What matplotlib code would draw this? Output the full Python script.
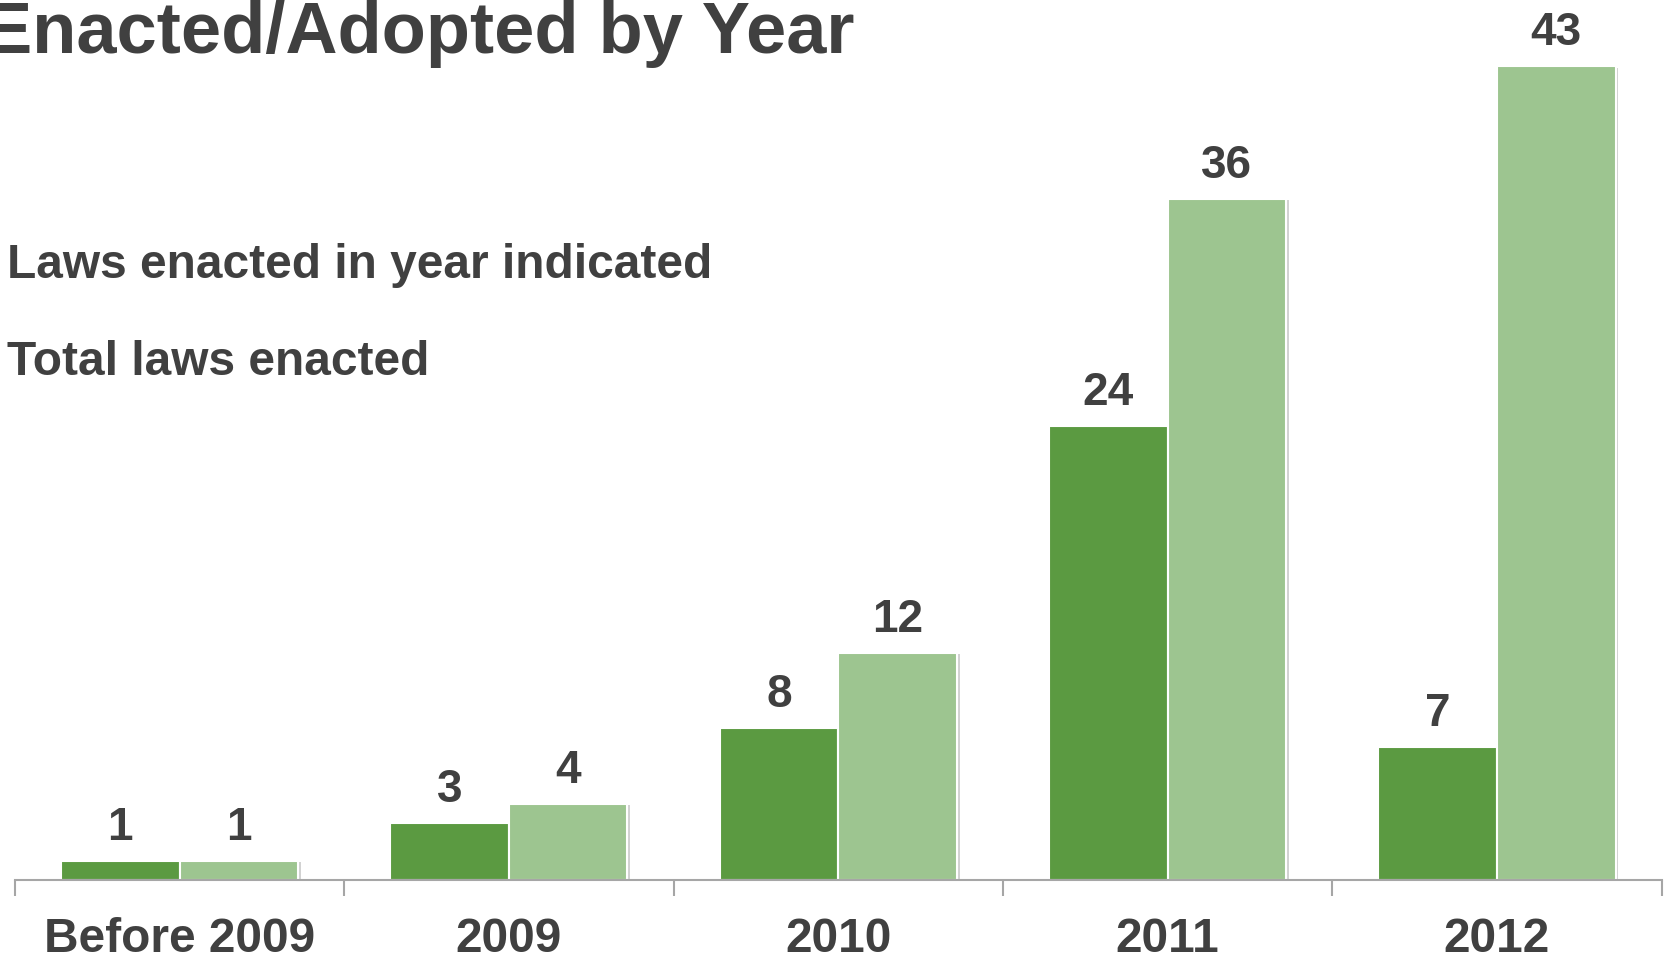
import numpy as np
import matplotlib
matplotlib.use("Agg")
import matplotlib.pyplot as plt
import matplotlib.patheffects as pe

# data
categories = ["Before 2009", "2009", "2010", "2011", "2012"]
laws_in_year = [1, 3, 8, 24, 7]
total_laws = [1, 4, 12, 36, 43]

dark_green = "#5B9A41"
light_green = "#9DC590"
text_col = "#404040"
axis_col = "#A6A6A6"

plt.rcParams['font.family'] = ['Liberation Sans', 'DejaVu Sans']
plt.rcParams['font.weight'] = 'bold'

fig = plt.figure(figsize=(16.65, 9.6), dpi=100)
ax = fig.add_axes([0.0089, 0.0838, 0.9891, 0.9162])

x = np.arange(len(categories))
w = 0.36
shadow = [pe.SimplePatchShadow(offset=(2, -1), shadow_rgbFace='#808080', alpha=0.35), pe.Normal()]

b1 = ax.bar(x - w/2, laws_in_year, w, color=dark_green, edgecolor='white', linewidth=1.5,
            path_effects=shadow, zorder=2)
b2 = ax.bar(x + w/2, total_laws, w, color=light_green, edgecolor='white', linewidth=1.5,
            path_effects=shadow, zorder=2)

for bars in (b1, b2):
    for rect in bars:
        h = rect.get_height()
        ax.annotate(str(int(h)), (rect.get_x() + rect.get_width()/2, h),
                    xytext=(0, 15), textcoords='offset points', ha='center', va='baseline',
                    fontsize=33, fontweight='bold', color=text_col)

ax.set_xlim(-0.5, 4.5)
ax.set_ylim(0, 46.5)

for s in ['top', 'right', 'left']:
    ax.spines[s].set_visible(False)
ax.spines['bottom'].set_color(axis_col)
ax.spines['bottom'].set_linewidth(1.5)
ax.set_yticks([])

ax.set_xticks(x)
ax.set_xticklabels(categories, fontsize=34.5, fontweight='bold', color=text_col)
ax.tick_params(axis='x', which='major', length=0, pad=27)
ax.set_xticks(np.arange(-0.5, 5.0, 1.0), minor=True)
ax.tick_params(axis='x', which='minor', length=11.5, width=1.5, color=axis_col, direction='out')

fig.text(0.5134, 0.945, "Enacted/Adopted by Year", ha='right', va='baseline',
         fontsize=52, fontweight='bold', color=text_col)
fig.text(0.0045, 0.710, "Laws enacted in year indicated", ha='left', va='baseline',
         fontsize=34.5, fontweight='bold', color=text_col)
fig.text(0.0045, 0.609, "Total laws enacted", ha='left', va='baseline',
         fontsize=34.5, fontweight='bold', color=text_col)

fig.savefig("out.png", dpi=100)
